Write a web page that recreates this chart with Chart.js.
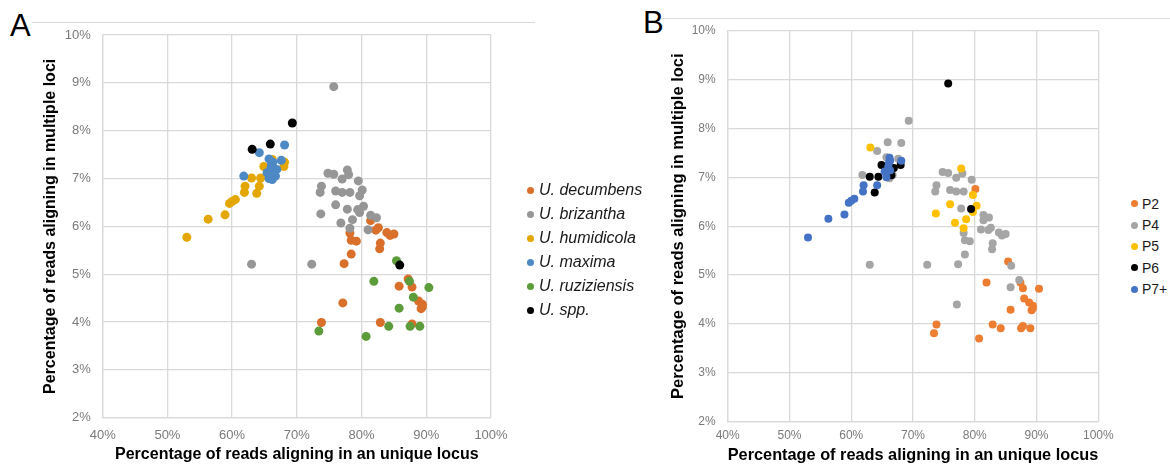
<!DOCTYPE html>
<html>
<head>
<meta charset="utf-8">
<script src="https://cdn.jsdelivr.net/npm/chart.js@4.4.0/dist/chart.umd.min.js"></script>
<style>
  body { margin: 0; background: #fff; }
  #wrap { position: relative; width: 1170px; height: 473px; font-family: 'Liberation Sans', Arial, sans-serif; overflow: hidden; }
  canvas { position: absolute; top: 0; }
  .panel { position: absolute; font-size: 31px; line-height: 1; color: #000; }
  .rule { position: absolute; height: 1px; background: #d9d9d9; }
  .legend { position: absolute; }
  .legend .row { display: flex; align-items: center; white-space: nowrap; }
  .legend .dot { display: inline-block; border-radius: 50%; flex: none; }
</style>
</head>
<body>
<div id="wrap">
  <div class="rule" style="left:32px; top:22px; width:503px;"></div>
  <div class="rule" style="left:661px; top:18px; width:509px;"></div>
  <div class="panel" style="left:10px; top:10px;">A</div>
  <div class="panel" style="left:643px; top:7px;">B</div>
  <canvas id="chartA" width="520" height="473" style="left:0;"></canvas>
  <canvas id="chartB" width="480" height="473" style="left:640px;"></canvas>
  <div id="legendA" class="legend" style="left:527px; top:178px;"></div>
  <div id="legendB" class="legend" style="left:1131px; top:193px;"></div>
</div>
<script>
// each point: x = % unique locus, y = % multiple loci, species index, ploidy index
const xVals = [
  53.0, 56.3, 58.9, 59.6, 60.0, 60.5, 61.9, 62.0, 63.0, 63.8, 64.2, 64.4, 64.9, 68.0, 68.1, 66.2,
  61.8, 64.2, 68.1, 63.1, 65.9, 69.3, 65.7, 67.6, 66.1, 66.0, 66.9, 66.3, 65.4, 66.7, 66.2, 65.7, 66.5, 66.3,
  75.7, 74.8, 75.7, 77.8, 78.0, 77.0, 79.5, 73.8, 73.6, 76.0, 77.0, 78.2, 80.1, 79.7, 76.0, 77.8,
  80.3, 79.7, 79.4, 73.7, 78.6, 81.4, 82.3, 76.8, 78.2, 81.0, 63.0, 72.3,
  81.4, 78.2, 78.4, 79.2, 82.2, 82.6, 83.9, 84.4, 85.0, 82.9, 82.8, 78.4, 77.3, 87.2, 85.8, 87.8,
  88.8, 89.4, 89.2, 89.4, 77.1, 73.8, 82.9, 87.8,
  85.4, 81.9, 87.4, 90.4, 88.0, 85.8, 84.2, 87.5, 89.0, 73.4, 80.7, 85.9
];
const yVals = [
  5.77, 6.15, 6.24, 6.48, 6.52, 6.56, 6.71, 6.84, 7.01, 6.69, 6.84, 7.01, 7.25, 7.25, 7.34, 7.40,
  7.05, 7.54, 7.70, 7.61, 7.72, 8.16, 7.41, 7.38, 7.30, 7.22, 7.19, 7.14, 7.12, 7.05, 6.98, 7.00, 7.04, 7.34,
  8.92, 7.11, 7.09, 7.18, 7.08, 6.99, 6.95, 6.84, 6.71, 6.74, 6.71, 6.71, 6.76, 6.64, 6.45, 6.36,
  6.42, 6.29, 6.35, 6.26, 6.14, 6.23, 6.18, 6.07, 5.96, 5.93, 5.21, 5.21,
  6.12, 5.86, 5.71, 5.69, 5.92, 5.97, 5.87, 5.81, 5.84, 5.65, 5.53, 5.42, 5.22, 4.90, 4.75, 4.73,
  4.44, 4.37, 4.28, 4.32, 4.40, 3.99, 3.99, 3.96,
  5.28, 4.85, 4.85, 4.72, 4.52, 4.29, 3.91, 3.91, 3.91, 3.81, 3.70, 5.19
];
const speciesIdx = [
  2, 2, 2, 2, 2, 2, 2, 2, 2, 2, 2, 2, 2, 2, 2, 2,
  3, 3, 3, 5, 5, 5, 3, 3, 3, 3, 3, 3, 3, 3, 3, 3, 2, 3,
  1, 1, 1, 1, 1, 1, 1, 1, 1, 1, 1, 1, 1, 1, 1, 1,
  1, 1, 1, 1, 1, 1, 1, 1, 1, 1, 1, 1,
  0, 0, 0, 0, 0, 0, 0, 0, 0, 0, 0, 0, 0, 0, 0, 0,
  0, 0, 0, 0, 0, 0, 0, 0,
  4, 4, 4, 4, 4, 4, 4, 4, 4, 4, 4, 5
];
const ploidyIdx = [
  4, 4, 4, 4, 4, 4, 4, 4, 3, 3, 4, 3, 3, 3, 4, 4,
  1, 1, 1, 2, 1, 1, 1, 1, 4, 4, 3, 4, 4, 1, 1, 4, 3, 4,
  3, 1, 1, 2, 1, 1, 1, 1, 1, 1, 1, 1, 0, 2, 2, 1,
  2, 2, 3, 2, 2, 1, 1, 2, 2, 1, 1, 1,
  1, 1, 1, 1, 1, 1, 1, 1, 1, 1, 1, 1, 1, 1, 1, 0,
  0, 0, 0, 0, 1, 0, 0, 0,
  0, 0, 0, 0, 0, 0, 0, 0, 0, 0, 0, 1
];

const speciesNames = ['U. decumbens', 'U. brizantha', 'U. humidicola', 'U. maxima', 'U. ruziziensis', 'U. spp.'];
const speciesColors = ['#d96f2a', '#969696', '#e4a700', '#4d89c4', '#5c9c3b', '#000000'];
const ploidyNames = ['P2', 'P4', 'P5', 'P6', 'P7+'];
const ploidyColors = ['#ed7d31', '#a5a5a5', '#ffc000', '#000000', '#4472c4'];

const xTicks = [40, 50, 60, 70, 80, 90, 100];
const yTicks = [2, 3, 4, 5, 6, 7, 8, 9, 10];

const FONT = "'Liberation Sans', Arial, sans-serif";

function buildDatasets(groupIdx, names, colors, radius) {
    return names.map((name, g) => {
        const pts = [];
        xVals.forEach((x, i) => {
            if (groupIdx[i] === g) pts.push({ x: x, y: yVals[i] });
        });
        return {
            label: name,
            data: pts,
            backgroundColor: colors[g],
            borderWidth: 0,
            pointRadius: radius,
            pointHoverRadius: radius,
            order: names.length - g // later series drawn on top, like the original
        };
    });
}

function makeChart(id, datasets, o) {
    return new Chart(document.getElementById(id), {
        type: 'scatter',
        data: { datasets: datasets },
        options: {
            responsive: false,
            animation: false,
            layout: { padding: { left: 0, right: o.padRight, top: o.padTop, bottom: 0 } },
            plugins: { legend: { display: false }, tooltip: { enabled: false } },
            scales: {
                x: {
                    min: xTicks[0], max: xTicks[xTicks.length - 1],
                    afterBuildTicks: s => { s.ticks = xTicks.map(v => ({ value: v })); },
                    afterFit: s => { s.height = o.xAxisH; s.paddingLeft = 0; s.paddingRight = 0; },
                    grid: { color: '#d9d9d9', lineWidth: 1.3, drawTicks: false },
                    border: { color: '#d9d9d9', width: 1.3 },
                    ticks: { padding: o.xTickPad, color: '#7a7a7a', font: { family: FONT, size: o.tickSize }, callback: v => v + '%', maxRotation: 0 },
                    title: { display: true, text: 'Percentage of reads aligning in an unique locus', color: '#000',
                             font: { family: FONT, size: o.titleSize, weight: 'bold' }, padding: { top: 0, bottom: o.xTitlePad } }
                },
                y: {
                    min: yTicks[0], max: yTicks[yTicks.length - 1],
                    afterBuildTicks: s => { s.ticks = yTicks.map(v => ({ value: v })); },
                    afterFit: s => { s.width = o.yAxisW; s.paddingTop = 0; s.paddingBottom = 0; },
                    grid: { color: '#d9d9d9', lineWidth: 1.3, drawTicks: false },
                    border: { color: '#d9d9d9', width: 1.3 },
                    ticks: { padding: o.yTickPad, color: '#7a7a7a', font: { family: FONT, size: o.tickSize }, callback: v => v + '%' },
                    title: { display: true, text: 'Percentage of reads aligning in multiple loci', color: '#000',
                             font: { family: FONT, size: o.titleSize, weight: 'bold' }, padding: { top: o.yTitlePad, bottom: 0 } }
                }
            }
        }
    });
}

function buildLegend(elId, chart, o) {
    const el = document.getElementById(elId);
    chart.data.datasets.forEach(ds => {
        const row = document.createElement('div');
        row.className = 'row';
        row.style.height = o.rowH + 'px';
        const dot = document.createElement('span');
        dot.className = 'dot';
        dot.style.width = o.dot + 'px';
        dot.style.height = o.dot + 'px';
        dot.style.background = ds.backgroundColor;
        dot.style.marginRight = o.gap + 'px';
        const txt = document.createElement('span');
        txt.textContent = ds.label;
        txt.style.font = o.font;
        txt.style.color = '#1a1a1a';
        row.appendChild(dot);
        row.appendChild(txt);
        el.appendChild(row);
    });
}

const chartA = makeChart('chartA', buildDatasets(speciesIdx, speciesNames, speciesColors, 4.5), {
    padRight: 29, padTop: 35, xAxisH: 55.3, yAxisW: 102.7,
    tickSize: 13, titleSize: 16, xTickPad: 9.5, yTickPad: 12, xTitlePad: 8.4, yTitlePad: 41.4
});
const chartB = makeChart('chartB', buildDatasets(ploidyIdx, ploidyNames, ploidyColors, 4), {
    padRight: 21.7, padTop: 30.7, xAxisH: 51.3, yAxisW: 87.7,
    tickSize: 12, titleSize: 16.5, xTickPad: 7, yTickPad: 12, xTitlePad: 7.4, yTitlePad: 29
});

buildLegend('legendA', chartA, { rowH: 24, dot: 7, gap: 5, font: "italic 16px 'Liberation Sans', Arial, sans-serif" });
buildLegend('legendB', chartB, { rowH: 21.4, dot: 7, gap: 4, font: "14px 'Liberation Sans', Arial, sans-serif" });
</script>
</body>
</html>
